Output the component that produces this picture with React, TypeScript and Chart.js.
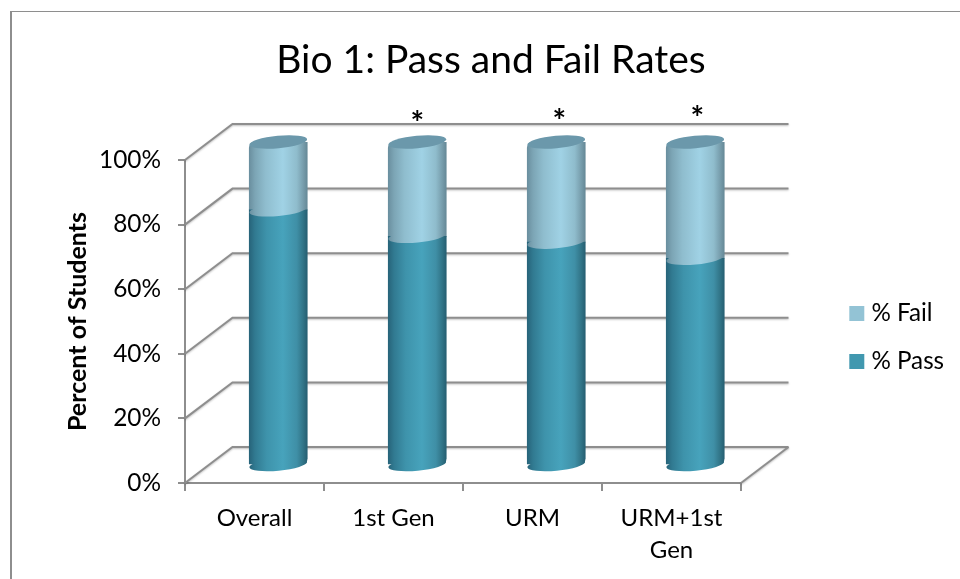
import React, { useEffect, useRef } from "react";
import { Chart, registerables } from "chart.js";

Chart.register(...registerables);

const categories: (string | string[])[] = ["Overall", "1st Gen", "URM", ["URM+1st", "Gen"]];
const passValues = [79, 70.8, 69, 64];
const failValues = [21, 29.2, 31, 36];
const asteriskMarks = ["", "*", "*", "*"];
const asteriskLevels = [0, 105.4, 106.1, 106.8];
const asteriskNudges = [0, 0, 3, 2];
const yTicks = [0, 20, 40, 60, 80, 100];

const FONT = "Lato, Carlito, sans-serif";
const LINE = "#8e8e8e";
const DEPTH_X = 47.5;
const DEPTH_Y = 36;
const BAR_W = 58;
const TILT = (-5.5 * Math.PI) / 180;
const RY = 6.2;

const makeGradient = (ctx: CanvasRenderingContext2D, cx: number, stops: [number, string][]) => {
  const g = ctx.createLinearGradient(cx - BAR_W / 2, 0, cx + BAR_W / 2, 0);
  stops.forEach(([o, c]) => g.addColorStop(o, c));
  return g;
};
const passStops: [number, string][] = [
  [0, "#27647a"],
  [0.1, "#317a91"],
  [0.3, "#3e93ab"],
  [0.58, "#47a3bc"],
  [0.82, "#3f8fa6"],
  [0.93, "#317487"],
  [1, "#265f72"],
];
const failStops: [number, string][] = [
  [0, "#6a8f9f"],
  [0.1, "#7ca5b5"],
  [0.28, "#8fbdce"],
  [0.58, "#a0d2e5"],
  [0.82, "#8fbccc"],
  [0.93, "#779dac"],
  [1, "#668997"],
];

const scriptedFill = (stops: [number, string][], flat: string) => (c: any) => {
  const x = c.chart.scales?.x?.getPixelForValue?.(c.dataIndex);
  return Number.isFinite(x) ? makeGradient(c.chart.ctx, x, stops) : flat;
};

const depthPlugin = {
  id: "depth",
  beforeDatasetsDraw(chart: any) {
    const { ctx, chartArea: a, scales } = chart;
    ctx.save();
    ctx.strokeStyle = LINE;
    ctx.lineWidth = 2;
    ctx.shadowColor = "rgba(0,0,0,0.25)";
    ctx.shadowBlur = 2;
    ctx.shadowOffsetY = 1;
    yTicks.forEach((v) => {
      const y = scales.y.getPixelForValue(v);
      ctx.beginPath();
      ctx.moveTo(a.left, y);
      ctx.lineTo(a.left + DEPTH_X, y - DEPTH_Y);
      ctx.lineTo(a.right + DEPTH_X, y - DEPTH_Y);
      ctx.stroke();
    });
    ctx.beginPath();
    ctx.moveTo(a.right, a.bottom);
    ctx.lineTo(a.right + DEPTH_X, a.bottom - DEPTH_Y);
    ctx.stroke();
    ctx.restore();
    ctx.save();
    ctx.translate(DEPTH_X / 2, -DEPTH_Y / 2);
  },
  afterDatasetsDraw(chart: any) {
    const { ctx, scales } = chart;
    const cap = (x: number, y: number, w: number, fill: any) => {
      ctx.fillStyle = fill;
      ctx.beginPath();
      ctx.ellipse(x, y, w / 2, RY, TILT, 0, Math.PI * 2);
      ctx.closePath();
      ctx.fill();
    };
    const pass = chart.getDatasetMeta(0).data;
    const fail = chart.getDatasetMeta(1).data;
    pass.forEach((el: any) => cap(el.x, el.base + 0.5, el.width, makeGradient(ctx, el.x, passStops)));
    fail.forEach((el: any) => cap(el.x, el.base, el.width, makeGradient(ctx, el.x, failStops)));
    fail.forEach((el: any) => cap(el.x, el.y, el.width, "#6b98ab"));
    ctx.fillStyle = "#000";
    ctx.font = `700 32px ${FONT}`;
    ctx.textAlign = "center";
    ctx.textBaseline = "middle";
    asteriskMarks.forEach((m, i) => {
      if (m) ctx.fillText(m, pass[i].x + asteriskNudges[i], scales.y.getPixelForValue(asteriskLevels[i]));
    });
    ctx.restore();
  },
};

const boxPlacer = {
  id: "boxPlacer",
  beforeDraw(chart: any) {
    const l = chart.legend;
    const w = l.right - l.left;
    const h = l.bottom - l.top;
    l.left = 818.5;
    l.right = l.left + w;
    l.top = 265.5;
    l.bottom = l.top + h;
    chart.titleBlock.left = 0;
    chart.titleBlock.right = chart.width;
  },
};

export default function App() {
  const ref = useRef<HTMLCanvasElement>(null);
  useEffect(() => {
    const chart = new Chart(ref.current!, {
      type: "bar",
      data: {
        labels: categories as any,
        datasets: [
          {
            label: "% Pass",
            data: passValues,
            borderWidth: 0,
            borderSkipped: "middle",
            borderRadius: { topLeft: 0, topRight: 0, bottomLeft: 0, bottomRight: 6 },
            backgroundColor: scriptedFill(passStops, "#4198af"),
          },
          {
            label: "% Fail",
            data: failValues,
            borderWidth: 0,
            borderRadius: { topLeft: 6, topRight: 0, bottomLeft: 0, bottomRight: 0 },
            backgroundColor: scriptedFill(failStops, "#93c3d5"),
          },
        ],
      },
      plugins: [depthPlugin, boxPlacer],
      options: {
        responsive: false,
        animation: false,
        barThickness: BAR_W,
        layout: { padding: { left: 0, right: 229, top: 0, bottom: 0 } },
        plugins: {
          tooltip: { enabled: false },
          title: {
            display: true,
            text: "Bio 1: Pass and Fail Rates",
            color: "#000",
            font: { family: FONT, size: 39, weight: "400" },
            padding: { top: 24.6, bottom: 76.6 },
          },
          legend: {
            position: "chartArea",
            align: "start",
            reverse: true,
            labels: {
              color: "#000",
              font: { family: FONT, size: 24.2 },
              boxWidth: 5,
              boxHeight: 5,
              padding: 23.8,
              generateLabels: (chart: any) =>
                Chart.defaults.plugins.legend.labels.generateLabels(chart).map((it: any) => {
                  const swatch = it.datasetIndex === 0 ? "#4198af" : "#93c3d5";
                  return { ...it, fillStyle: swatch, strokeStyle: swatch, lineWidth: 10, lineJoin: "miter" };
                }),
            },
          },
        },
        scales: {
          x: {
            stacked: true,
            afterFit: (s: any) => {
              s.height = 96;
            },
            border: { color: LINE, width: 2 },
            grid: { drawOnChartArea: false, color: LINE, lineWidth: 2, tickLength: 8 },
            ticks: {
              color: "#000",
              font: { family: FONT, size: 24, lineHeight: 1.33 },
              padding: 11,
              maxRotation: 0,
            },
          },
          y: {
            stacked: true,
            min: 0,
            max: 100,
            afterFit: (s: any) => {
              s.width = 173;
            },
            title: {
              display: true,
              text: "Percent of Students",
              color: "#000",
              font: { family: FONT, size: 25, weight: "700" },
              padding: { top: 51, bottom: 0 },
            },
            border: { color: LINE, width: 2 },
            grid: { drawOnChartArea: false, color: LINE, lineWidth: 2, tickLength: 7 },
            ticks: {
              color: "#000",
              font: { family: FONT, size: 24.4 },
              stepSize: 20,
              padding: 17,
              callback: (v: any) => `${v}%`,
            },
          },
        },
      } as any,
    });
    return () => chart.destroy();
  }, []);
  return (
    <div
      style={{
        position: "absolute",
        left: 10,
        top: 11,
        width: 950,
        height: 568,
        overflow: "hidden",
        boxSizing: "border-box",
        borderLeft: `2px solid ${LINE}`,
        borderTop: `1px solid ${LINE}`,
        background: "#fff",
      }}
    >
      <canvas ref={ref} width={958} height={567} style={{ display: "block" }} />
    </div>
  );
}
